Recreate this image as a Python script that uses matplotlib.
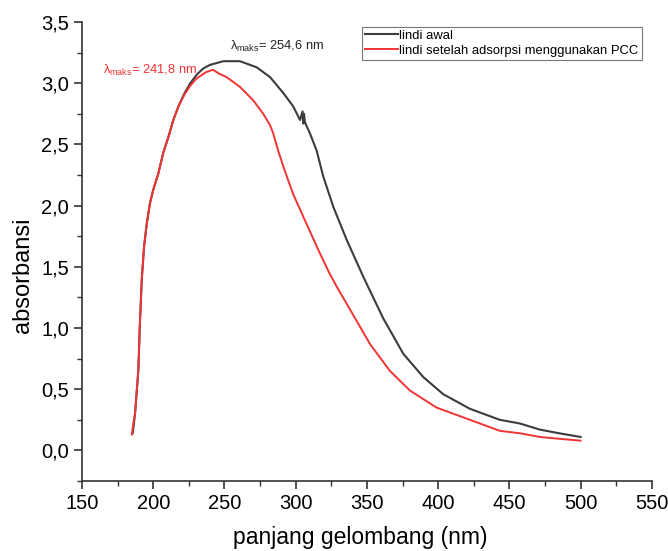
import matplotlib
matplotlib.use('Agg')
import matplotlib.pyplot as plt
from matplotlib.ticker import MultipleLocator, FuncFormatter

plt.rcParams['font.family'] = ['Liberation Sans', 'DejaVu Sans']
plt.rcParams['mathtext.fontset'] = 'custom'
plt.rcParams['mathtext.rm'] = 'Liberation Sans'
plt.rcParams['mathtext.it'] = 'Liberation Sans'

# lindi awal
wl_awal = [185.5, 186.2, 187.2, 189.5, 190.7, 191.9, 193.5, 195.4, 197.7, 200.0,
           203.5, 207.0, 210.6, 214.1, 218.0, 222.0, 226.0, 230.5, 235.0, 239.8,
           249.2, 260.9, 272.6, 282.0, 291.3, 298.3, 303.0, 304.8, 305.3, 305.8,
           306.5, 310.0, 314.7, 319.3, 326.4, 335.8, 347.4, 361.4, 375.5, 389.5,
           403.5, 422.3, 443.3, 457.4, 471.4, 485.0, 500.0]
abs_awal = [0.14, 0.20, 0.30, 0.65, 1.06, 1.39, 1.66, 1.85, 2.02, 2.13,
            2.26, 2.43, 2.56, 2.70, 2.82, 2.92, 3.00, 3.07, 3.12, 3.15,
            3.18, 3.18, 3.13, 3.05, 2.92, 2.81, 2.70, 2.77, 2.67, 2.75,
            2.68, 2.59, 2.45, 2.24, 1.99, 1.72, 1.42, 1.08, 0.79, 0.60,
            0.46, 0.34, 0.25, 0.22, 0.17, 0.14, 0.11]

# lindi setelah adsorpsi menggunakan PCC
wl_pcc = [185.0, 186.0, 187.2, 189.5, 190.7, 191.9, 193.5, 195.4, 197.7, 200.0,
          203.5, 207.0, 210.6, 214.1, 218.0, 222.0, 226.0, 230.5, 237.0, 241.8,
          246.0, 251.5, 260.9, 270.2, 277.2, 281.9, 284.2, 287.7, 291.3, 298.0,
          305.3, 317.0, 324.0, 328.7, 342.7, 352.1, 366.1, 380.1, 398.9, 422.3,
          443.3, 457.4, 471.4, 485.0, 500.0]
abs_pcc = [0.13, 0.22, 0.30, 0.65, 1.06, 1.39, 1.66, 1.85, 2.02, 2.13,
           2.26, 2.43, 2.56, 2.70, 2.82, 2.91, 2.98, 3.04, 3.09, 3.11,
           3.08, 3.05, 2.97, 2.86, 2.75, 2.66, 2.59, 2.45, 2.32, 2.10,
           1.91, 1.61, 1.44, 1.34, 1.06, 0.87, 0.65, 0.49, 0.35, 0.25,
           0.16, 0.14, 0.11, 0.095, 0.08]

labels = ['lindi awal', 'lindi setelah adsorpsi menggunakan PCC']
peaks = [254.6, 241.8]

fig = plt.figure(figsize=(6.68, 5.51), dpi=100)
ax = fig.add_axes([0.1228, 0.127, 0.853, 0.833])

ax.plot(wl_awal, abs_awal, color='#3c3c3c', lw=1.5, label=labels[0])
ax.plot(wl_pcc, abs_pcc, color='#f03434', lw=1.4, label=labels[1])

ax.set_xlim(150, 550)
ax.set_ylim(-0.25, 3.5)
ax.xaxis.set_major_locator(MultipleLocator(50))
ax.xaxis.set_minor_locator(MultipleLocator(25))
ax.yaxis.set_major_locator(MultipleLocator(0.5))
ax.yaxis.set_minor_locator(MultipleLocator(0.25))
ax.yaxis.set_major_formatter(FuncFormatter(lambda v, p: f"{v:.1f}".replace('.', ',')))

for s in ['top', 'right']:
    ax.spines[s].set_visible(False)
for s in ['left', 'bottom']:
    ax.spines[s].set_linewidth(1.2)
    ax.spines[s].set_color('#333333')
ax.tick_params(which='major', direction='out', length=6, width=1.2, labelsize=14.5, color='#333333')
ax.tick_params(which='minor', direction='out', length=3.5, width=1.0, color='#333333')

ax.set_xlabel('panjang gelombang (nm)', fontsize=16.5)
ax.set_ylabel('absorbansi', fontsize=17)
ax.xaxis.set_label_coords(0.489, -0.098)
ax.yaxis.set_label_coords(-0.085, 0.449)

ax.text(254, 3.27, r'$\lambda_{\mathregular{maks}}$= ' + f"{peaks[0]:.1f}".replace('.', ',') + ' nm',
        color='#222222', fontsize=9.3)
ax.text(164.5, 3.08, r'$\lambda_{\mathregular{maks}}$= ' + f"{peaks[1]:.1f}".replace('.', ',') + ' nm',
        color='#f03434', fontsize=9.3)

leg = ax.legend(loc='upper right', bbox_to_anchor=(0.982, 0.99), fontsize=9.4,
                frameon=True, fancybox=False, borderpad=0.25, handlelength=2.5,
                handletextpad=0.1, labelspacing=0.2, borderaxespad=0)
leg.get_frame().set_edgecolor('#555555')
leg.get_frame().set_linewidth(0.8)

fig.savefig('out.png', dpi=100)
